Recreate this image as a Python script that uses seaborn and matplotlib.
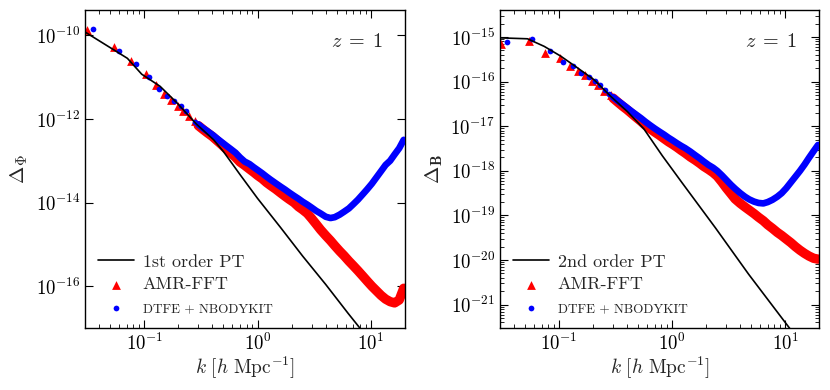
import numpy as np
import matplotlib
matplotlib.use("Agg")
import matplotlib.pyplot as plt
import seaborn as sns
from matplotlib.ticker import LogLocator, NullLocator, NullFormatter

# ---- data (Delta values stored as log10) ----
# dense k grid shared by the simulation curves
k_dense = [0.30, 0.33, 0.36, 0.40, 0.44, 0.48, 0.53, 0.58, 0.64, 0.70, 0.77, 0.85, 0.93,
           1.0, 1.1, 1.2, 1.3, 1.45, 1.6, 1.75, 1.9, 2.1, 2.3, 2.5, 2.75, 3.0, 3.3, 3.6,
           4.0, 4.4, 4.8, 5.3, 5.8, 6.4, 7.0, 7.7, 8.5, 9.3, 10.2, 11.2, 12.3, 13.5,
           14.8, 16.2, 17.8, 19.5]

# left panel: Delta_Phi
phi_pt_k = [0.030, 0.071, 0.095, 0.138, 0.195, 0.288, 0.41, 0.50, 0.59, 0.70, 1.0,
            1.6, 2.5, 4.0, 6.3, 10.0, 20.0]
phi_pt = [-9.92, -10.55, -10.93, -11.22, -11.62, -12.12, -12.50, -12.78, -13.05, -13.33,
          -13.90, -14.60, -15.28, -15.96, -16.65, -17.33, -18.35]

phi_amr_k_low = [0.031, 0.054, 0.076, 0.103, 0.127, 0.149, 0.171, 0.20, 0.221, 0.249, 0.28]
phi_amr_low = [-9.88, -10.28, -10.62, -10.92, -11.20, -11.40, -11.54, -11.68, -11.80,
               -11.92, -12.04]
phi_amr = [-12.16, -12.25, -12.33, -12.42, -12.52, -12.61, -12.72, -12.81, -12.92, -13.03,
           -13.11, -13.20, -13.28, -13.35, -13.43, -13.52, -13.59, -13.68, -13.77, -13.85,
           -13.92, -14.00, -14.10, -14.17, -14.26, -14.38, -14.52, -14.65, -14.79, -14.91,
           -15.03, -15.16, -15.27, -15.40, -15.51, -15.63, -15.76, -15.88, -16.00, -16.11,
           -16.22, -16.31, -16.37, -16.40, -16.33, -16.05]

phi_dtfe_k_low = [0.035, 0.060, 0.085, 0.110, 0.135, 0.160, 0.184, 0.209, 0.233, 0.28]
phi_dtfe_low = [-9.86, -10.38, -10.68, -11.00, -11.28, -11.44, -11.56, -11.70, -11.82, -12.08]
phi_dtfe = [-12.13, -12.22, -12.29, -12.38, -12.47, -12.55, -12.64, -12.72, -12.81, -12.92,
            -13.02, -13.08, -13.16, -13.22, -13.30, -13.38, -13.45, -13.54, -13.62, -13.69,
            -13.76, -13.84, -13.91, -13.98, -14.05, -14.12, -14.20, -14.26, -14.34, -14.37,
            -14.35, -14.29, -14.22, -14.14, -14.04, -13.93, -13.80, -13.68, -13.55, -13.40,
            -13.25, -13.10, -13.00, -12.85, -12.70, -12.50]

# right panel: Delta_B
b_pt_k = [0.0305, 0.0525, 0.0738, 0.1035, 0.145, 0.204, 0.286, 0.401, 0.562, 0.817,
          1.225, 2.415, 4.75, 10.0, 20.0]
b_pt = [-15.02, -15.04, -15.21, -15.43, -15.69, -15.96, -16.33, -16.67, -17.06, -17.66,
        -18.27, -19.28, -20.32, -21.40, -22.40]

b_amr_k_low = [0.0305, 0.0543, 0.0752, 0.101, 0.125, 0.147, 0.169, 0.197, 0.222, 0.249, 0.286]
b_amr_low = [-15.16, -15.08, -15.36, -15.46, -15.66, -15.77, -15.86, -15.98, -16.08,
             -16.20, -16.31]
b_amr = [-16.37, -16.46, -16.54, -16.63, -16.72, -16.80, -16.89, -16.98, -17.06, -17.13,
         -17.20, -17.28, -17.35, -17.40, -17.47, -17.54, -17.60, -17.69, -17.76, -17.83,
         -17.90, -17.97, -18.04, -18.12, -18.25, -18.38, -18.51, -18.63, -18.73, -18.81,
         -18.88, -18.96, -19.04, -19.12, -19.21, -19.29, -19.38, -19.45, -19.53, -19.61,
         -19.70, -19.78, -19.85, -19.91, -19.96, -19.98]

b_dtfe_k_low = [0.0345, 0.058, 0.0834, 0.108, 0.134, 0.157, 0.182, 0.208, 0.230, 0.255, 0.276]
b_dtfe_low = [-15.12, -15.04, -15.31, -15.56, -15.66, -15.81, -15.90, -15.98, -16.08,
              -16.18, -16.28]
b_dtfe = [-16.35, -16.43, -16.50, -16.59, -16.67, -16.74, -16.82, -16.90, -16.98, -17.05,
          -17.12, -17.19, -17.26, -17.31, -17.38, -17.44, -17.49, -17.57, -17.65, -17.72,
          -17.79, -17.87, -17.93, -18.00, -18.10, -18.20, -18.31, -18.40, -18.50, -18.58,
          -18.64, -18.69, -18.72, -18.73, -18.70, -18.65, -18.58, -18.50, -18.39, -18.26,
          -18.13, -18.00, -17.86, -17.71, -17.56, -17.42]

sns.set_style("ticks", {"xtick.direction": "in", "ytick.direction": "in",
                        "xtick.top": True, "ytick.right": True})
plt.rcParams.update({
    "font.family": "cmr10",
    "mathtext.fontset": "cm",
    "axes.formatter.use_mathtext": True,
    "axes.edgecolor": "black",
    "axes.linewidth": 1.0,
    "xtick.major.size": 6, "ytick.major.size": 6,
    "xtick.minor.size": 3, "ytick.minor.size": 3,
    "xtick.color": "black", "ytick.color": "black",
})

fig = plt.figure(figsize=(8.3, 3.9), dpi=100)
ax1 = fig.add_axes([0.1024, 0.159, 0.3855, 0.815])
ax2 = fig.add_axes([0.6024, 0.159, 0.3847, 0.815])

panels = [
    (ax1, phi_pt_k, phi_pt, phi_amr_k_low, phi_amr_low, phi_amr, phi_dtfe_k_low, phi_dtfe_low,
     phi_dtfe, "1st order PT", r"$\Delta_\Phi$", (1e-17, 4e-10)),
    (ax2, b_pt_k, b_pt, b_amr_k_low, b_amr_low, b_amr, b_dtfe_k_low, b_dtfe_low,
     b_dtfe, "2nd order PT", r"$\Delta_\mathbf{B}$", (3e-22, 4e-15)),
]

for (ax, pk, pt, ak, alow, aden, dk, dlow, dden, pt_label, ylab, ylim) in panels:
    # the high-k bins are so crowded that the markers merge into a thick band
    sns.lineplot(x=k_dense, y=10.0 ** np.array(aden), ax=ax, color="red", lw=6.8,
                 sort=False, estimator=None, zorder=2, solid_capstyle="round")
    sns.lineplot(x=k_dense, y=10.0 ** np.array(dden), ax=ax, color="blue", lw=4.8,
                 sort=False, estimator=None, zorder=3, solid_capstyle="round")

    sns.lineplot(x=pk, y=10.0 ** np.array(pt), ax=ax, color="black", lw=1.2,
                 sort=False, estimator=None, label=pt_label, zorder=5)
    sns.scatterplot(x=ak, y=10.0 ** np.array(alow), ax=ax, marker="^", color="red", s=40,
                    linewidth=0, label="AMR-FFT", zorder=2)
    sns.scatterplot(x=dk, y=10.0 ** np.array(dlow), ax=ax, marker="o", color="blue", s=17,
                    linewidth=0, label="DTFE + NBODYKIT", zorder=3)

    ax.set_xscale("log")
    ax.set_yscale("log")
    ax.set_xlim(0.03, 20)
    ax.set_ylim(*ylim)
    ax.set_xlabel(r"$k\ [h\ \mathrm{Mpc}^{-1}]$", fontsize=14, labelpad=1)
    ax.set_ylabel(ylab, fontsize=15, labelpad=4)
    ax.tick_params(labelsize=13.5)
    ax.tick_params(which="both", top=True, right=True, direction="in")
    ax.text(0.85, 0.90, r"$z\;=\;1$", transform=ax.transAxes, fontsize=14.5,
            ha="center", va="center")

    leg = ax.legend(loc="lower left", frameon=False, fontsize=13, handlelength=2.0,
                    borderaxespad=0.3, labelspacing=0.4, handletextpad=0.5)
    leg.get_texts()[2].set_fontsize(9.5)

ax1.set_yticks([1e-16, 1e-14, 1e-12, 1e-10])
ax1.yaxis.set_minor_locator(NullLocator())
ax2.set_yticks([1e-21, 1e-20, 1e-19, 1e-18, 1e-17, 1e-16, 1e-15])
ax2.yaxis.set_minor_locator(LogLocator(base=10, subs=np.arange(2, 10), numticks=20))
ax2.yaxis.set_minor_formatter(NullFormatter())
ax2.set_ylim(3e-22, 4e-15)

fig.savefig("out.png", dpi=100)
